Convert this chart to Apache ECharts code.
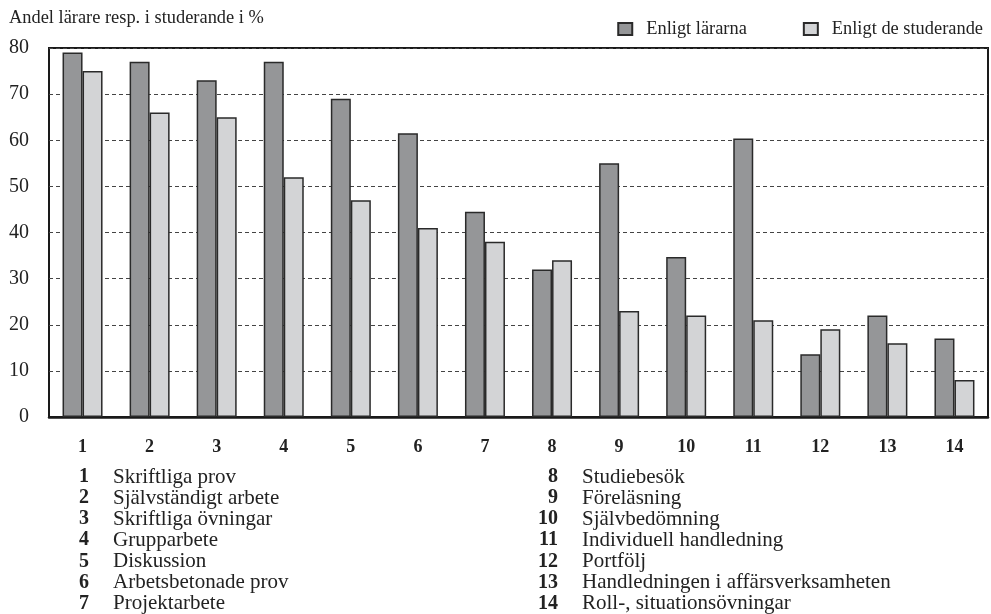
<!DOCTYPE html>
<html>
<head>
<meta charset="utf-8">
<script src="https://cdn.jsdelivr.net/npm/echarts@6/dist/echarts.min.js"></script>
<style>
html,body{margin:0;padding:0;background:#fff;}
#c{width:991px;height:614px;}
</style>
</head>
<body>
<div id="c"></div>
<script>
var categories = ['1','2','3','4','5','6','7','8','9','10','11','12','13','14'];
var teachers = [79, 77, 73, 77, 69, 61.5, 44.5, 32, 55, 34.7, 60.4, 13.6, 22, 17];
var students = [75, 66, 65, 52, 47, 41, 38, 34, 23, 22, 21, 19, 16, 8];
var seriesNames = ['Enligt lärarna', 'Enligt de studerande'];
var yTicks = [0, 10, 20, 30, 40, 50, 60, 70, 80];
var yTitle = 'Andel lärare resp. i studerande i %';
var itemNames = ['Skriftliga prov','Självständigt arbete','Skriftliga övningar','Grupparbete','Diskussion','Arbetsbetonade prov','Projektarbete','Studiebesök','Föreläsning','Självbedömning','Individuell handledning','Portfölj','Handledningen i affärsverksamheten','Roll-, situationsövningar'];

var SERIF = '"Liberation Serif","DejaVu Serif",serif';
var chart = echarts.init(document.getElementById('c'), null, {renderer:'canvas'});

var graphics = [{
  type:'text', left:9, top:9,
  style:{text:yTitle, font:'18.4px ' + SERIF, fill:'#222'}
}];
for (var i = 0; i < itemNames.length; i++) {
  var col = i < 7 ? 0 : 1;
  var row = i % 7;
  var numRight = col === 0 ? 89 : 558;
  var textX = col === 0 ? 113 : 582;
  var cy = 477 + row * 21.1;
  graphics.push({
    type:'text', x:numRight, y:cy,
    style:{text:categories[i], font:'bold 20px ' + SERIF, fill:'#222', align:'right', verticalAlign:'middle'}
  });
  graphics.push({
    type:'text', x:textX, y:cy,
    style:{text:itemNames[i], font:'21px ' + SERIF, fill:'#222', align:'left', verticalAlign:'middle'}
  });
}

chart.setOption({
  animation:false,
  backgroundColor:'#fff',
  legend:{
    right:3, top:15,
    itemWidth:14, itemHeight:12, itemGap:56,
    icon:'rect',
    textStyle:{fontFamily:SERIF, fontSize:18.4, color:'#222', padding:[0,0,0,9]},
    data:seriesNames
  },
  grid:{
    left:49, right:3, top:48, bottom:197,
    show:true, borderColor:'#1a1a1a', borderWidth:2, backgroundColor:'transparent'
  },
  xAxis:{
    type:'category', data:categories,
    axisTick:{show:false},
    axisLine:{show:true, lineStyle:{color:'#1a1a1a', width:2.5}},
    axisLabel:{margin:21, fontFamily:SERIF, fontWeight:'bold', fontSize:18, color:'#222'}
  },
  yAxis:{
    type:'value', min:0, max:80, interval:10,
    axisLine:{show:false}, axisTick:{show:false},
    axisLabel:{margin:20, fontFamily:SERIF, fontSize:20, color:'#222'},
    splitLine:{show:true, lineStyle:{color:'#444', type:[4,3], width:1}}
  },
  series:[{
    name:seriesNames[0], type:'bar', data:teachers,
    barWidth:20, barGap:'0%',
    itemStyle:{color:'#959698', borderColor:'#2a2a2a', borderWidth:1.5}
  },{
    name:seriesNames[1], type:'bar', data:students,
    barWidth:20,
    itemStyle:{color:'#d3d4d6', borderColor:'#2a2a2a', borderWidth:1.5}
  }],
  graphic:graphics
});
</script>
</body>
</html>
